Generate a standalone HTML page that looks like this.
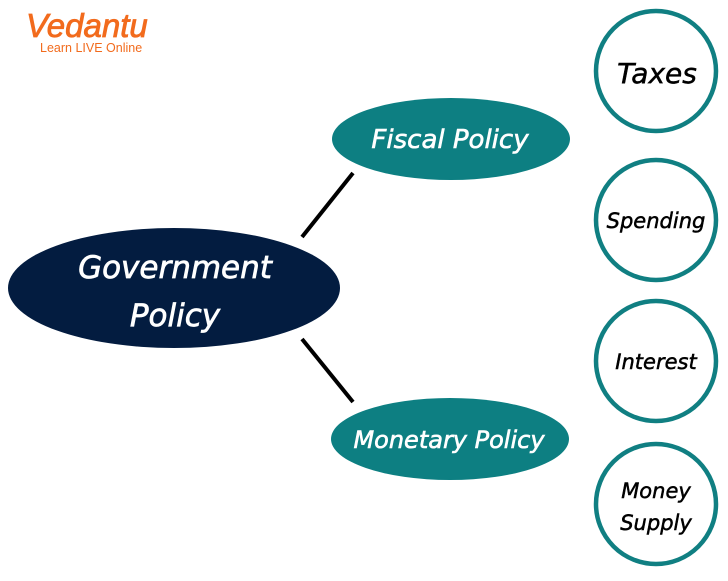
<!DOCTYPE html>
<html><head><style>body{margin:0;background:#fff}</style></head><body>
<svg width="728" height="576" xmlns="http://www.w3.org/2000/svg" font-family="'DejaVu Sans', 'Liberation Sans', sans-serif" font-style="italic">
<text x="26" y="37" font-size="33" fill="#f26b1d" stroke="#f26b1d" stroke-width="0.8" font-family="'Liberation Sans',sans-serif" font-style="italic">Vedantu</text>
<text x="40" y="52" font-size="12.5" fill="#f26b1d" font-style="normal" font-family="'Liberation Sans',sans-serif">Learn LIVE Online</text>
<line x1="302" y1="237" x2="353" y2="173" stroke="#000" stroke-width="4"/>
<line x1="302" y1="339" x2="353" y2="402" stroke="#000" stroke-width="4"/>
<ellipse cx="174" cy="288" rx="166" ry="60" fill="#031c40"/>
<g fill="#fff" stroke="#fff" stroke-width="0.7" text-anchor="middle">
<text x="175" y="278" font-size="31">Government</text>
<text x="175" y="326" font-size="31">Policy</text>
</g>
<ellipse cx="451" cy="139" rx="119" ry="41" fill="#0d7f82"/>
<ellipse cx="450" cy="439" rx="119" ry="41" fill="#0d7f82"/>
<g fill="#fff" stroke="#fff" stroke-width="0.6" text-anchor="middle">
<text x="450" y="148" font-size="26">Fiscal Policy</text>
<text x="449" y="448" font-size="24">Monetary Policy</text>
</g>
<g fill="#fff" stroke="#107f82" stroke-width="4.5">
<circle cx="656" cy="71" r="60"/><circle cx="656" cy="220" r="60"/>
<circle cx="656" cy="361" r="60"/><circle cx="656" cy="504" r="60"/></g>
<g fill="#000" stroke="#000" stroke-width="0.5" text-anchor="middle">
<text x="657" y="83" font-size="28">Taxes</text>
<text x="656" y="228" font-size="21">Spending</text>
<text x="656" y="369" font-size="21">Interest</text>
<text x="656" y="498" font-size="21">Money</text>
<text x="656" y="530" font-size="21">Supply</text>
</g>
</svg>
</body></html>
